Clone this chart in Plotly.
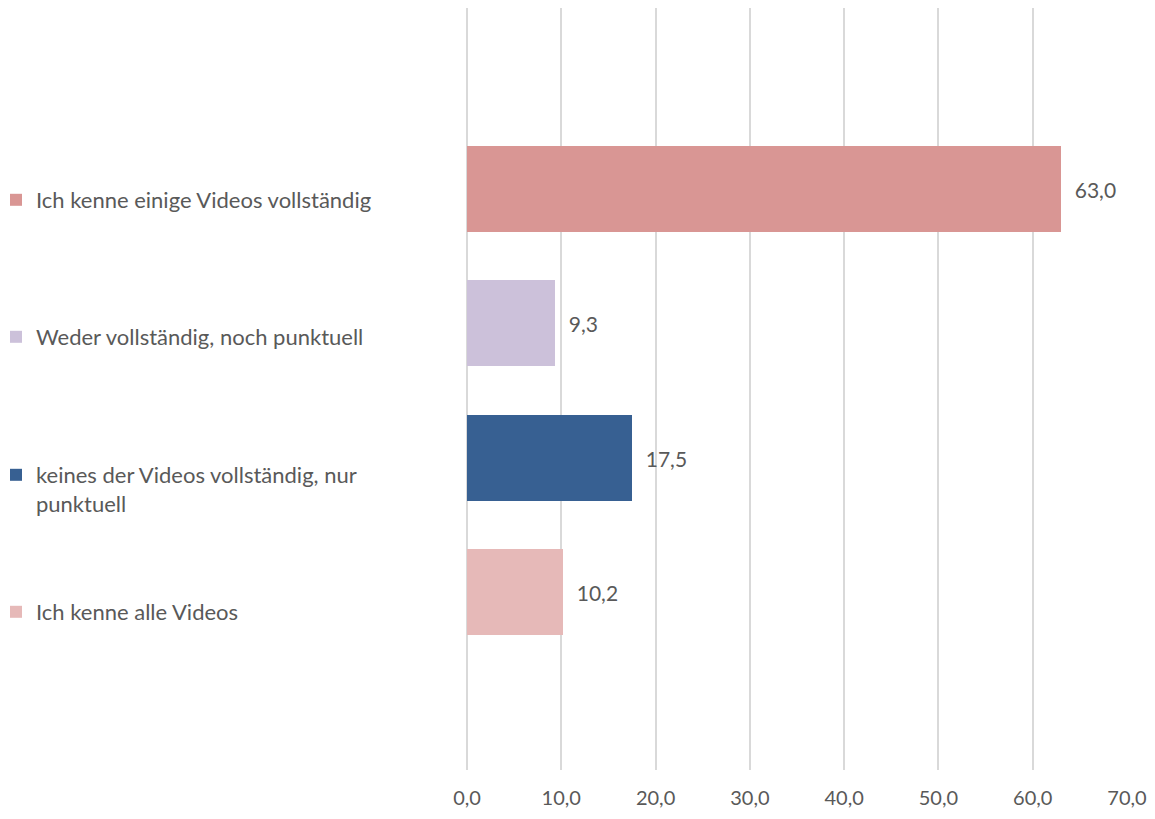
import plotly.graph_objects as go

categories = [
    "Ich kenne einige Videos vollständig",
    "Weder vollständig, noch punktuell",
    "keines der Videos vollständig, nur<br>punktuell",
    "Ich kenne alle Videos",
]
values = [63.0, 9.3, 17.5, 10.2]
colors = ["#D99694", "#CCC1DA", "#376092", "#E6B9B8"]
tick_vals = [0, 10, 20, 30, 40, 50, 60, 70]

# page body has an 8px margin on every side
W, H = 1139, 803
ML, MR, MT, MB = 459, 20, 0, 41
PW = W - ML - MR
PH = H - MT - MB
FONT = "Lato"
GRAY = "#595959"

# legend item vertical centers (figure pixels from top)
legend_centers = [192, 329, 481.5, 604]

fig = go.Figure()
n = len(categories)
legend_ids = ["legend", "legend2", "legend3", "legend4"]
for i, (cat, val, col) in enumerate(zip(categories, values, colors)):
    fig.add_trace(go.Bar(
        x=[val], y=[n - 1 - i], orientation="h",
        name=cat, marker=dict(color=col, line=dict(width=0)),
        width=0.64,
        text=[val], texttemplate="\u00a0\u00a0%{x:.1f}",
        textposition="outside",
        textfont=dict(family=FONT, size=21, color=GRAY),
        legend=legend_ids[i],
        showlegend=True,
        hoverinfo="x+name",
    ))

legend_common = dict(
    xref="paper", yref="paper",
    x=(-12 - ML) / PW, xanchor="left", yanchor="middle",
    font=dict(family=FONT, size=22, color=GRAY),
    bgcolor="rgba(0,0,0,0)", borderwidth=0,
    valign="top", itemclick=False, itemdoubleclick=False,
)
legends = {}
for lid, cy in zip(legend_ids, legend_centers):
    legends[lid] = dict(legend_common, y=(MT + PH - cy) / PH)

fig.update_layout(
    width=W, height=H,
    paper_bgcolor="white", plot_bgcolor="white",
    margin=dict(l=ML, r=MR, t=MT, b=MB, autoexpand=False),
    separators=",.",
    bargap=0,
    font=dict(family=FONT, size=20, color=GRAY),
    xaxis=dict(
        range=[0, 70], tickvals=tick_vals, tickformat=".1f",
        showgrid=True, gridcolor="#D9D9D9", gridwidth=2,
        zeroline=True, zerolinecolor="#D9D9D9", zerolinewidth=2,
        showline=False, ticks="", ticklabelstandoff=14,
        tickfont=dict(family=FONT, size=20, color=GRAY),
        fixedrange=True, automargin=False,
    ),
    yaxis=dict(
        range=[-1.325, 4.347], visible=False, fixedrange=True,
    ),
    **legends,
)

fig.write_html("out.html")
